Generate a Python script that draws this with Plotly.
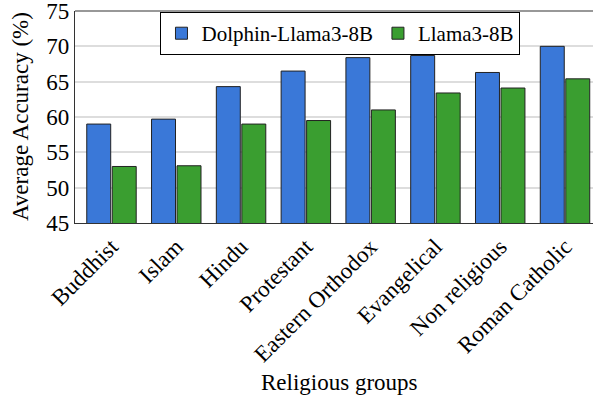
import plotly.graph_objects as go

categories = ["Buddhist", "Islam", "Hindu", "Protestant", "Eastern Orthodox",
              "Evangelical", "Non religious", "Roman Catholic"]
dolphin = [59.0, 59.7, 64.3, 66.5, 68.4, 68.7, 66.3, 70.0]
llama = [53.0, 53.1, 59.0, 59.5, 61.0, 63.4, 64.1, 65.4]
yticks = [45, 50, 55, 60, 65, 70, 75]

FONT = "Liberation Serif, DejaVu Serif, serif"
FS = 23
fig = go.Figure()
fig.add_bar(x=categories, y=dolphin, name="Dolphin-Llama3-8B",
            marker=dict(color="#3A78D8", line=dict(color="#222222", width=1)))
fig.add_bar(x=categories, y=llama, name="Llama3-8B",
            marker=dict(color="#3A9E30", line=dict(color="#222222", width=1)))

fig.update_layout(
    width=593, height=400,
    margin=dict(l=75, r=0, t=11, b=177, autoexpand=False),
    paper_bgcolor="white", plot_bgcolor="white",
    barmode="group", bargap=0.213, bargroupgap=0.06,
    font=dict(family=FONT, size=FS, color="black"),
    showlegend=True,
    legend=dict(orientation="h", x=0.165, y=0.995, xanchor="left", yanchor="top",
                bordercolor="black", borderwidth=1, bgcolor="white",
                font=dict(family=FONT, size=21, color="black"), itemwidth=30,
                tracegroupgap=0),
    xaxis=dict(range=[-0.563, 7.432], tickangle=-45, showline=True,
               linecolor="#333333", linewidth=1.2, ticks="", showgrid=False,
               automargin=False,
               tickfont=dict(family=FONT, size=FS)),
    yaxis=dict(range=[45, 75], tickvals=yticks, showline=True,
               linecolor="#333333", linewidth=1.2, ticks="",
               showgrid=True, gridcolor="#DDDDDD", gridwidth=1.5,
               automargin=False, ticklabeloverflow="allow",
               tickfont=dict(family=FONT, size=FS), zeroline=False),
)
fig.add_annotation(text="Religious groups", xref="paper", yref="paper",
                   x=0.51, y=-0.75, xanchor="center", yanchor="middle",
                   showarrow=False, font=dict(family=FONT, size=FS))
fig.add_annotation(text="Average Accuracy (%)", xref="paper", yref="paper",
                   x=-0.106, y=0.5, xanchor="center", yanchor="middle",
                   textangle=-90, showarrow=False, font=dict(family=FONT, size=FS))
fig.add_shape(type="line", xref="paper", yref="paper", x0=0, x1=1, y0=1, y1=1,
              line=dict(color="#333333", width=1.2))
fig.write_html("out.html", config={"displayModeBar": False},
               post_script="document.body.style.margin='0';")
